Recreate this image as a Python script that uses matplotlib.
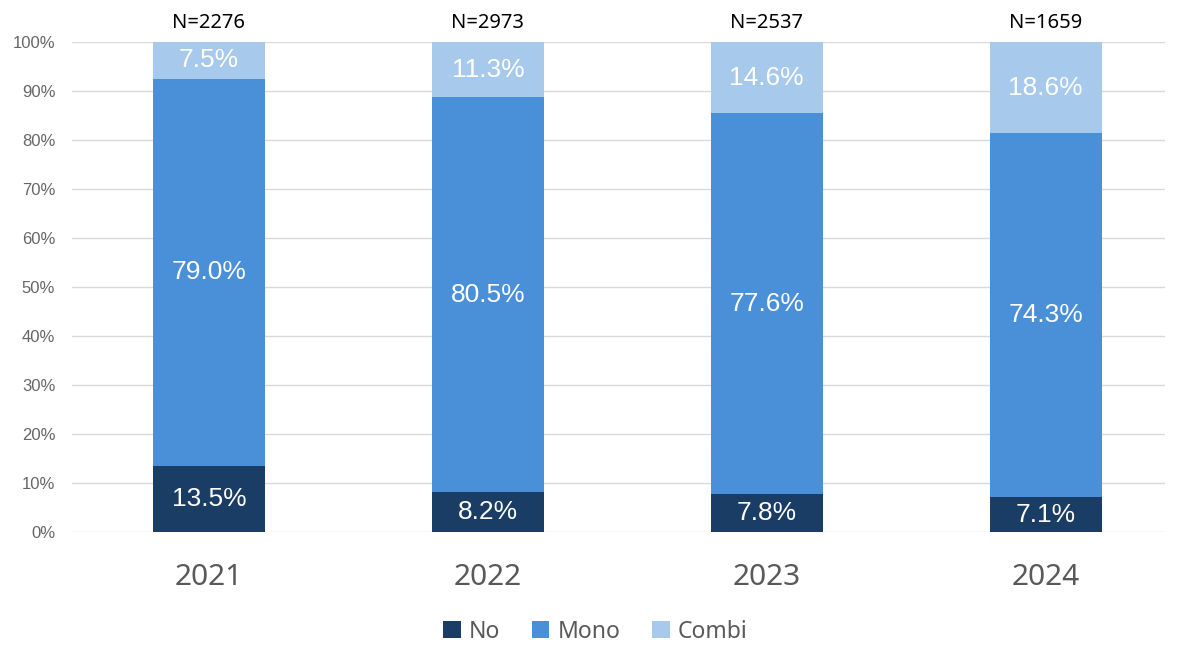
import numpy as np
import matplotlib
matplotlib.use("Agg")
import matplotlib.pyplot as plt
from matplotlib.ticker import PercentFormatter

years = ["2021", "2022", "2023", "2024"]
n_labels = ["N=2276", "N=2973", "N=2537", "N=1659"]
no_vals = [13.5, 8.2, 7.8, 7.1]
mono_vals = [79.0, 80.5, 77.6, 74.3]
combi_vals = [7.5, 11.3, 14.6, 18.6]

colors = {"No": "#1a3d66", "Mono": "#4a90d9", "Combi": "#a6c9ec"}

plt.rcParams["font.family"] = ["Liberation Sans", "DejaVu Sans"]

fig = plt.figure(figsize=(11.79, 6.45), dpi=100)
ax = fig.add_axes([0.061, 0.175, 0.927, 0.760])

x = np.arange(len(years))
width = 0.40
bottom = np.zeros(len(years))
for name, vals in [("No", no_vals), ("Mono", mono_vals), ("Combi", combi_vals)]:
    vals = np.array(vals)
    ax.bar(x, vals, width, bottom=bottom, color=colors[name], label=name, zorder=3)
    for xi, b, v in zip(x, bottom, vals):
        ax.text(xi, b + v / 2, f"{v:.1f}%", ha="center", va="center",
                color="white", fontsize=19, zorder=4)
    bottom += vals

for xi, lab in zip(x, n_labels):
    ax.text(xi, 101.8, lab, ha="center", va="bottom", fontsize=14.5,
            family=["Noto Sans", "DejaVu Sans"], color="black")

ax.set_ylim(0, 100)
ax.set_xlim(-0.491, 3.427)
ax.set_yticks(np.arange(0, 101, 10))
ax.yaxis.set_major_formatter(PercentFormatter(decimals=0))
ax.set_xticks(x)
ax.set_xticklabels(years, fontsize=21.5, color="#595959",
                   family=["Noto Sans", "DejaVu Sans"])
ax.tick_params(axis="y", labelsize=12, labelcolor="#666666", length=0, pad=12)
ax.tick_params(axis="x", length=0, pad=22)
ax.grid(axis="y", color="#d9d9d9", linewidth=1, zorder=0)
for s in ax.spines.values():
    s.set_visible(False)

leg = fig.legend(loc="lower center", bbox_to_anchor=(0.505, -0.03), ncol=3, frameon=False,
                 handlelength=0.75, handleheight=0.75, handletextpad=0.35,
                 columnspacing=1.4, prop={"family": ["Noto Sans", "DejaVu Sans"], "size": 16.5})
for t in leg.get_texts():
    t.set_color("#595959")

fig.savefig("out.png", dpi=100)
